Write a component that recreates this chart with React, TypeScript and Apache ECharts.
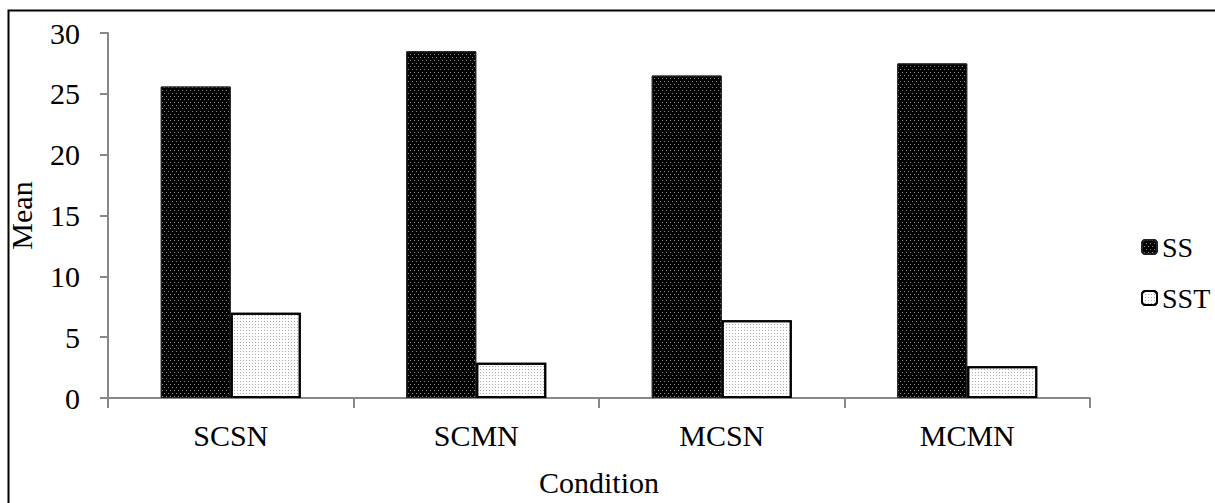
import React, { useEffect, useRef } from "react";
import * as echarts from "echarts";

const categories = ["SCSN", "SCMN", "MCSN", "MCMN"];
const ssValues = [25.6, 28.5, 26.5, 27.5];
const sstValues = [7.0, 2.9, 6.4, 2.6];
const yTicks = { min: 0, max: 30, interval: 5 };

const FONT = "Liberation Serif";

export default function App() {
  const ref = useRef<HTMLDivElement>(null);
  useEffect(() => {
    if (!ref.current) return;
    const chart = echarts.init(ref.current, undefined, { renderer: "svg" });
    chart.setOption({
      animation: false,
      backgroundColor: "#fff",
      textStyle: { fontFamily: FONT, color: "#000" },
      graphic: [
        {
          type: "rect",
          left: 6,
          top: 8,
          shape: { x: 0, y: 0, width: 1230, height: 520 },
          style: { fill: "none", stroke: "#000", lineWidth: 2 },
          silent: true,
          z: 100,
        },
      ],
      grid: {
        left: 108,
        right: 125,
        top: 33,
        bottom: 105,
        containLabel: false,
        outerBoundsMode: "none",
      },
      legend: {
        orient: "vertical",
        left: 1136,
        top: 228,
        itemWidth: 15,
        itemHeight: 14,
        itemGap: 23,
        textStyle: { fontSize: 28, fontFamily: FONT, color: "#000" },
        data: ["SS", "SST"],
      },
      xAxis: {
        type: "category",
        data: categories,
        name: "Condition",
        nameLocation: "middle",
        nameGap: 69,
        nameTextStyle: { fontSize: 30, fontFamily: FONT, color: "#000" },
        axisLine: { lineStyle: { color: "#888", width: 2 } },
        axisTick: { show: true, length: 10, lineStyle: { color: "#888", width: 2 } },
        axisLabel: { fontSize: 30, fontFamily: FONT, color: "#000", margin: 22 },
      },
      yAxis: {
        type: "value",
        min: yTicks.min,
        max: yTicks.max,
        interval: yTicks.interval,
        name: "Mean",
        nameLocation: "middle",
        nameGap: 72,
        nameRotate: 90,
        nameTextStyle: { fontSize: 30, fontFamily: FONT, color: "#000" },
        axisLine: { show: true, lineStyle: { color: "#888", width: 2 } },
        axisTick: { show: true, length: 8, lineStyle: { color: "#888", width: 2 } },
        axisLabel: { fontSize: 30, fontFamily: FONT, color: "#000", margin: 28 },
        splitLine: { show: false },
      },
      series: [
        {
          name: "SS",
          type: "bar",
          data: ssValues,
          barWidth: 70,
          barGap: "0%",
          itemStyle: {
            color: "#000",
            borderColor: "#222",
            borderWidth: 1,
            decal: {
              symbol: "rect",
              symbolSize: 1,
              color: "#8a8a8a",
              dashArrayX: [[1, 3], [0, 2, 1, 1]],
              dashArrayY: [1, 2],
              rotation: 0,
            },
          },
        },
        {
          name: "SST",
          type: "bar",
          data: sstValues,
          barWidth: 70,
          barGap: "0%",
          itemStyle: {
            color: "#fff",
            borderColor: "#000",
            borderWidth: 2,
            decal: {
              symbol: "rect",
              symbolSize: 1,
              color: "#aaa",
              dashArrayX: [1, 2],
              dashArrayY: [1, 2],
              rotation: 0,
            },
          },
        },
      ],
    });
    return () => chart.dispose();
  }, []);
  return (
    <div
      ref={ref}
      style={{ position: "absolute", left: 0, top: 0, width: 1215, height: 503 }}
    />
  );
}
